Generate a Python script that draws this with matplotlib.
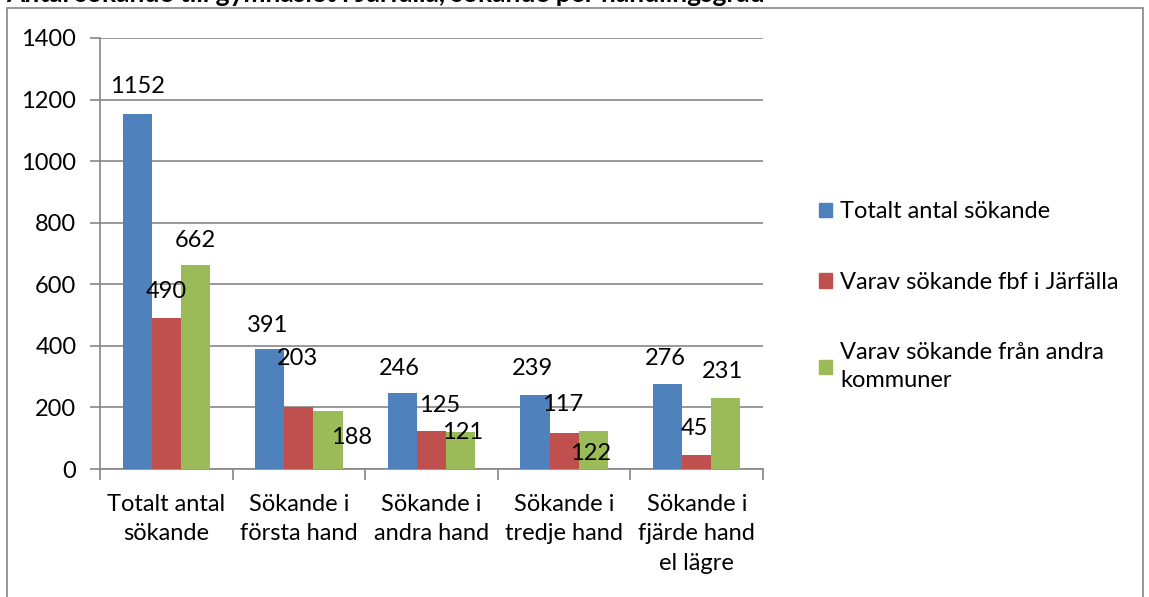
import matplotlib.pyplot as plt
import numpy as np
from matplotlib.patches import Rectangle, Patch

plt.rcParams['font.family'] = ['Lato', 'DejaVu Sans']

categories = ["Totalt antal\nsökande", "Sökande i\nförsta hand", "Sökande i\nandra hand",
              "Sökande i\ntredje hand", "Sökande i\nfjärde hand\nel lägre"]
series_names = ["Totalt antal sökande", "Varav sökande fbf i Järfälla",
                "Varav sökande från andra\nkommuner"]
totalt = [1152, 391, 246, 239, 276]
jarfalla = [490, 203, 125, 117, 45]
andra = [662, 188, 121, 122, 231]
colors = ['#4f81bd', '#c0504d', '#9bbb59']

# label offsets in pixels (dx, dy) relative to bar top, as placed in the original
label_offsets = [
    [(0, 28), (0, 27), (0, 25)],
    [(-2, 23), (-1, 48), (23, -26)],
    [(-3, 25), (8, 25), (2, -1)],
    [(-2, 27), (-2, 28), (-3, -22)],
    [(-2, 26), (-2, 27), (-3, 26)],
]

fs = 17
fig = plt.figure(figsize=(11.49, 5.97), dpi=100)
ax = fig.add_axes([100/1149, 1-469/597, 663/1149, 431/597])

x = np.arange(len(categories))
w = 0.22
data = [totalt, jarfalla, andra]
for i, vals in enumerate(data):
    bars = ax.bar(x + (i-1)*w, vals, width=w, color=colors[i], zorder=3)
    for j, b in enumerate(bars):
        dx, dy = label_offsets[j][i]
        ax.annotate(str(vals[j]), (b.get_x() + b.get_width()/2, b.get_height()),
                    xytext=(dx*0.72, dy*0.72), textcoords='offset points',
                    ha='center', va='center', fontsize=fs, zorder=4)

grid_c = '#868686'
ax.set_ylim(0, 1400)
ax.set_yticks(range(0, 1401, 200))
ax.set_xlim(-0.5, 4.5)
ax.yaxis.grid(True, color=grid_c, linewidth=1.2, zorder=0)
ax.set_xticks(np.arange(-0.5, 5, 1))
ax.set_xticklabels([])
ax.set_xticks(x, minor=True)
ax.set_xticklabels(categories, minor=True, fontsize=fs, linespacing=1.5, va='top')
ax.tick_params(axis='x', which='minor', length=0, pad=18)
ax.tick_params(axis='x', which='major', length=8, color=grid_c, width=1.2)
ax.tick_params(axis='y', length=7, color=grid_c, width=1.2, labelsize=fs, pad=10)
for s in ['top', 'right']:
    ax.spines[s].set_visible(False)
for s in ['left', 'bottom']:
    ax.spines[s].set_color(grid_c)
    ax.spines[s].set_linewidth(1.2)

handles = [Patch(color=c) for c in colors]
leg = fig.legend(handles, series_names, loc='upper left', bbox_to_anchor=(798/1149, 1-180/597),
                 frameon=False, fontsize=fs, handlelength=0.55, handleheight=0.55,
                 handletextpad=0.35, labelspacing=2.1)
for t in leg.get_texts():
    t.set_linespacing(1.4)

# outer chart frame
fig.patches.append(Rectangle((7/1149, -0.1), 1136/1149, 1.1 - 8/597, transform=fig.transFigure,
                             fill=False, edgecolor=grid_c, linewidth=1.2))

# title clipped at the top edge
fig.text(6/1149, 1-2.5/597, "Antal sökande till gymnasiet i Järfälla, sökande per handlingsgrad",
         fontsize=19, fontweight='bold', va='baseline', ha='left')

fig.savefig("out.png", dpi=100)
